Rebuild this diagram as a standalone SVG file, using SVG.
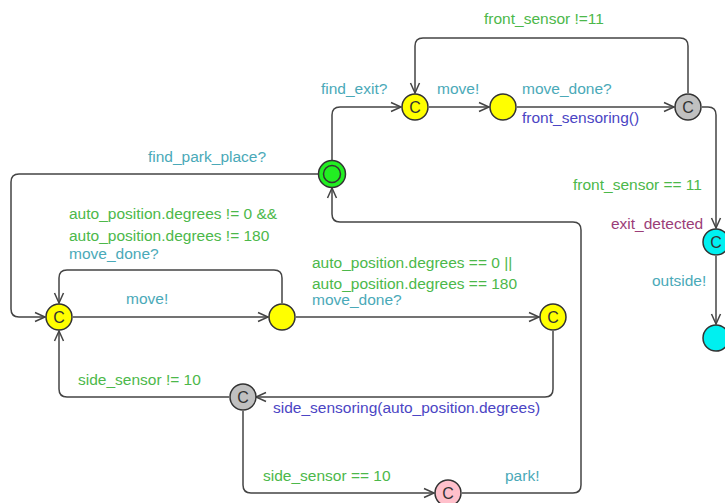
<svg xmlns="http://www.w3.org/2000/svg" width="725" height="503" viewBox="0 0 725 503">
<style>
.e{fill:none;stroke:#444;stroke-width:1.5}
.n{stroke:#333;stroke-width:1.5}
.t{font-family:"Liberation Sans",Arial,sans-serif;font-size:15.5px}
.g{fill:#4cb84a}
.s{fill:#4aa9b8}
.u{fill:#4b45c4}
.l{fill:#9b3d78}
.c{font-family:"Liberation Sans",Arial,sans-serif;font-size:16px;fill:#333;text-anchor:middle}
</style>
<defs>
<marker id="a" markerUnits="userSpaceOnUse" markerWidth="14" markerHeight="12" refX="12" refY="6" orient="auto">
<path d="M2,1.5 L12,6 L2,10.5" fill="none" stroke="#444" stroke-width="1.5"/>
</marker>
</defs>
<rect width="725" height="503" fill="#fff"/>
<g id="connectors">
<path class="e" marker-end="url(#a)" d="M332,160 V115 Q332,107 340,107 H401"/>
<path class="e" marker-end="url(#a)" d="M429,107 H489"/>
<path class="e" marker-end="url(#a)" d="M517,107 H674"/>
<path class="e" marker-end="url(#a)" d="M688,93 V46 Q688,38 680,38 H423 Q415,38 415,46 V93"/>
<path class="e" marker-end="url(#a)" d="M702,107 H708 Q716,107 716,115 V228"/>
<path class="e" marker-end="url(#a)" d="M716,256 V324"/>
<path class="e" marker-end="url(#a)" d="M318,174 H19 Q11,174 11,182 V309 Q11,317 19,317 H45"/>
<path class="e" marker-end="url(#a)" d="M73,317 H268"/>
<path class="e" marker-end="url(#a)" d="M282,303 V278 Q282,270 274,270 H67 Q59,270 59,278 V303"/>
<path class="e" marker-end="url(#a)" d="M296,317 H539"/>
<path class="e" marker-end="url(#a)" d="M553,331 V389 Q553,397 545,397 H256"/>
<path class="e" marker-end="url(#a)" d="M229,397 H67 Q59,397 59,389 V331"/>
<path class="e" marker-end="url(#a)" d="M243,411 V485 Q243,493 251,493 H434"/>
<path class="e" marker-end="url(#a)" d="M462,493 H573 Q581,493 581,485 V230 Q581,222 573,222 H340 Q332,222 332,214 V188"/>
</g>
<g id="labels">
<text class="t g" x="484" y="24">front_sensor !=11</text>
<text class="t s" x="321" y="94">find_exit?</text>
<text class="t s" x="437" y="94">move!</text>
<text class="t s" x="522" y="94">move_done?</text>
<text class="t u" x="522" y="123">front_sensoring()</text>
<text class="t s" x="148" y="162">find_park_place?</text>
<text class="t g" x="573" y="190">front_sensor == 11</text>
<text class="t l" x="611" y="229">exit_detected</text>
<text class="t s" x="652" y="286">outside!</text>
<text class="t g" x="69" y="219">auto_position.degrees != 0 &amp;&amp;</text>
<text class="t g" x="69" y="241">auto_position.degrees != 180</text>
<text class="t s" x="69" y="259">move_done?</text>
<text class="t s" x="126" y="304">move!</text>
<text class="t g" x="312" y="268">auto_position.degrees == 0 ||</text>
<text class="t g" x="312" y="289">auto_position.degrees == 180</text>
<text class="t s" x="312" y="305">move_done?</text>
<text class="t g" x="78" y="385">side_sensor != 10</text>
<text class="t u" x="273" y="413">side_sensoring(auto_position.degrees)</text>
<text class="t g" x="263" y="481">side_sensor == 10</text>
<text class="t s" x="505" y="481">park!</text>
</g>
<g id="n_find_exit"><circle class="n" cx="415" cy="107" r="13" fill="#ffff00"/><text class="c" x="415" y="112.5">C</text></g>
<g id="n_moving"><circle class="n" cx="503" cy="107" r="13" fill="#ffff00"/></g>
<g id="n_front_check"><circle class="n" cx="688" cy="107" r="13" fill="#c0c0c0"/><text class="c" x="688" y="112.5">C</text></g>
<g id="n_exit_detected"><circle class="n" cx="716" cy="242" r="13" fill="#00f0f0"/><text class="c" x="716" y="247.5">C</text></g>
<g id="n_outside"><circle class="n" cx="716" cy="338" r="13" fill="#00f0f0"/></g>
<g id="n_init"><circle class="n" cx="332" cy="174" r="13.5" fill="#22ee22"/><circle cx="332" cy="174" r="8.5" fill="none" stroke="#333" stroke-width="1.5"/></g>
<g id="n_left"><circle class="n" cx="59" cy="317" r="13" fill="#ffff00"/><text class="c" x="59" y="322.5">C</text></g>
<g id="n_mid"><circle class="n" cx="282" cy="317" r="13" fill="#ffff00"/></g>
<g id="n_right"><circle class="n" cx="553" cy="317" r="13" fill="#ffff00"/><text class="c" x="553" y="322.5">C</text></g>
<g id="n_side_check"><circle class="n" cx="243" cy="397" r="13" fill="#c0c0c0"/><text class="c" x="243" y="402.5">C</text></g>
<g id="n_park"><circle class="n" cx="448" cy="493" r="13" fill="#ffc0cb"/><text class="c" x="448" y="498.5">C</text></g>
</svg>
